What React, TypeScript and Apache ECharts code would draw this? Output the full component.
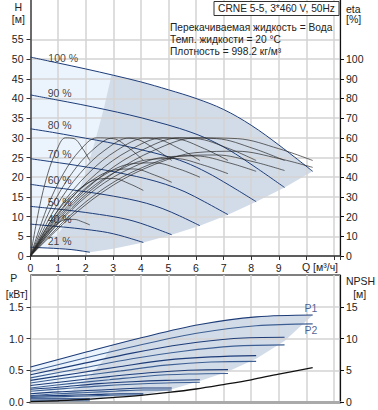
import React, { useEffect, useRef } from 'react';
import * as echarts from 'echarts';

const FONT = '"Liberation Sans", Arial, sans-serif';

// Speed curve labels and their anchor (Q, H)
const SPEED_LABELS = ['100 %', '90 %', '80 %', '70 %', '60 %', '50 %', '40 %', '21 %'];
const SPEED_LABEL_POS = [[1.185, 50.4], [1.06, 41.5], [1.06, 33.3], [1.06, 25.9], [1.06, 19.3], [1.06, 13.8], [1.06, 9.5], [1.06, 3.7]];

// H(Q) curves per speed
const H_Q = [
  [0, 1, 2, 3, 4, 5, 6, 7, 8, 9, 10.23],
  [0, 0.9, 1.8, 2.7, 3.6, 4.5, 5.4, 6.3, 7.2, 8.1, 9.21],
  [0, 0.8, 1.6, 2.4, 3.2, 4, 4.8, 5.6, 6.4, 7.2, 8.18],
  [0, 0.7, 1.4, 2.1, 2.8, 3.5, 4.2, 4.9, 5.6, 6.3, 7.16],
  [0, 0.6, 1.2, 1.8, 2.4, 3, 3.6, 4.2, 4.8, 5.4, 6.14],
  [0, 0.5, 1, 1.5, 2, 2.5, 3, 3.5, 4, 4.5, 5.12],
  [0, 0.4, 0.8, 1.2, 1.6, 2, 2.4, 2.8, 3.2, 3.6, 4.09],
  [0, 0.21, 0.42, 0.63, 0.84, 1.05, 1.26, 1.47, 1.68, 1.89, 2.15],
];
const H_VALS = [
  [50.5, 49.0, 47.5, 45.9, 44.2, 42.2, 40.0, 37.2, 33.2, 28.2, 21.5],
  [40.9, 39.7, 38.5, 37.2, 35.8, 34.2, 32.4, 30.1, 26.9, 22.8, 17.4],
  [32.3, 31.4, 30.4, 29.4, 28.3, 27.0, 25.6, 23.8, 21.2, 18.0, 13.8],
  [24.7, 24.0, 23.3, 22.5, 21.7, 20.7, 19.6, 18.2, 16.3, 13.8, 10.5],
  [18.2, 17.6, 17.1, 16.5, 15.9, 15.2, 14.4, 13.4, 12.0, 10.2, 7.7],
  [12.6, 12.25, 11.9, 11.5, 11.05, 10.55, 10.0, 9.3, 8.3, 7.05, 5.4],
  [8.1, 7.85, 7.6, 7.35, 7.07, 6.75, 6.4, 5.95, 5.3, 4.5, 3.44],
  [2.23, 2.16, 2.09, 2.02, 1.95, 1.86, 1.76, 1.64, 1.46, 1.24, 0.95],
];

// Efficiency curves per speed (eta axis)
const ETA_Q = [
  [0, 1.5, 3, 4.5, 6, 7.5, 9, 10.23],
  [0, 1.35, 2.7, 4.05, 5.4, 6.75, 8.1, 9.21],
  [0, 1.2, 2.4, 3.6, 4.8, 6.0, 7.2, 8.18],
  [0, 1.05, 2.1, 3.15, 4.2, 5.25, 6.3, 7.16],
  [0, 0.9, 1.8, 2.7, 3.6, 4.5, 5.4, 6.14],
  [0, 0.75, 1.5, 2.25, 3.0, 3.75, 4.5, 5.12],
  [0, 0.6, 1.2, 1.8, 2.4, 3.0, 3.6, 4.09],
  [0, 0.32, 0.63, 0.95, 1.26, 1.58, 1.89, 2.15],
];
const ETA_PUMP = [
  [0, 24.5, 42, 53.8, 60, 59.6, 54.5, 48.5],
  [0, 24.5, 42, 53.8, 60, 59.6, 54.5, 48.5],
  [0, 24.5, 42, 53.8, 60, 59.6, 54.5, 48.5],
  [0, 24.5, 42, 53.8, 60, 59.6, 54.5, 48.5],
  [0, 24.5, 42, 53.8, 60, 59.6, 54.5, 48.5],
  [0, 24.5, 42, 53.8, 60, 59.6, 54.5, 48.5],
  [0, 24.5, 42, 53.8, 60, 59.6, 54.5, 48.5],
  [0, 24.5, 42, 53.8, 60, 59.6, 54.5, 48.5],
];
const ETA_TOTAL = [
  [0, 20.2, 36, 46.5, 52.5, 53.2, 49.5, 45],
  [0, 19.5, 34.7, 44.9, 50.7, 51.3, 47.8, 43.4],
  [0, 19.3, 34.4, 44.4, 50.1, 50.8, 47.3, 43],
  [0, 18.8, 33.5, 43.2, 48.8, 49.5, 46, 41.8],
  [0, 18, 32, 41.4, 46.7, 47.3, 44.1, 40],
  [0, 16.8, 29.9, 38.6, 43.6, 44.2, 41.1, 37.4],
  [0, 14.9, 26.6, 34.4, 38.9, 39.4, 36.6, 33.3],
  [0, 7.1, 12.6, 16.3, 18.4, 18.6, 17.3, 15.8],
];

// Power curves per speed
const P_Q = [
  [0, 2.05, 4.09, 6.14, 8.18, 10.23],
  [0, 1.84, 3.68, 5.53, 7.37, 9.21],
  [0, 1.64, 3.27, 4.91, 6.54, 8.18],
  [0, 1.43, 2.86, 4.30, 5.73, 7.16],
  [0, 1.23, 2.46, 3.68, 4.91, 6.14],
  [0, 1.02, 2.05, 3.07, 4.09, 5.12],
  [0, 0.82, 1.64, 2.45, 3.27, 4.09],
  [0, 0.43, 0.86, 1.29, 1.72, 2.15],
];
const P1_VALS = [
  [0.55, 0.79, 1.02, 1.22, 1.34, 1.37],
  [0.43, 0.60, 0.77, 0.91, 1.00, 1.02],
  [0.34, 0.45, 0.56, 0.66, 0.71, 0.73],
  [0.26, 0.33, 0.40, 0.46, 0.50, 0.51],
  [0.20, 0.24, 0.29, 0.32, 0.34, 0.35],
  [0.13, 0.16, 0.18, 0.20, 0.22, 0.22],
  [0.09, 0.10, 0.11, 0.12, 0.13, 0.13],
  [0.05, 0.05, 0.05, 0.05, 0.05, 0.05],
];
const P2_VALS = [
  [0.48, 0.70, 0.91, 1.09, 1.20, 1.23],
  [0.38, 0.53, 0.68, 0.80, 0.88, 0.90],
  [0.30, 0.40, 0.49, 0.58, 0.63, 0.64],
  [0.22, 0.29, 0.35, 0.41, 0.44, 0.45],
  [0.17, 0.21, 0.25, 0.28, 0.30, 0.31],
  [0.10, 0.13, 0.15, 0.17, 0.19, 0.19],
  [0.07, 0.08, 0.09, 0.10, 0.11, 0.11],
  [0.02, 0.02, 0.02, 0.02, 0.02, 0.02],
];

// NPSH curve
const NPSH_Q = [0, 1, 2, 3, 4, 5, 6, 7, 8, 9, 10.23];
const NPSH_VALS = [0.05, 0.2, 0.4, 0.7, 1.05, 1.5, 2.05, 2.75, 3.5, 4.4, 5.4];

// Operating zones (outline points)
const H_ZONE = [[0, 50.5], [1, 49], [2, 47.5], [3, 45.9], [4, 44.2], [5, 42.2], [6, 40], [7, 37.2], [8, 33.2], [9, 28.2], [10.23, 21.5],
  [9.21, 17.4], [8.18, 13.8], [7.16, 10.5], [6.14, 7.7], [5.12, 5.4], [4.09, 3.44], [3, 1.85], [2.15, 0.95], [1.47, 1.64], [0.84, 1.95], [0, 2.23]];
const H_LIGHT = [[0, 50.5], [1, 49], [2, 47.5], [2.94, 46.0], [2.65, 37.2], [2.35, 29.4], [2.06, 22.5], [1.76, 16.5], [1.47, 11.5], [1.18, 7.3], [0.62, 2.02], [0.21, 2.16], [0, 2.23]];
const P_ZONE = [[0, 0.55], [1, 0.67], [2.05, 0.79], [3, 0.905], [4.09, 1.02], [5, 1.12], [6.14, 1.22], [7, 1.285], [8.18, 1.34], [9, 1.362], [10.23, 1.37],
  [9.21, 0.96], [8.18, 0.68], [7.16, 0.48], [6.14, 0.33], [5.12, 0.2], [4.09, 0.12], [2.15, 0.035], [0, 0.02]];
const P_LIGHT = [[0, 0.55], [1, 0.67], [2.05, 0.79], [2.94, 0.89], [2.65, 0.67], [2.35, 0.50], [2.06, 0.36], [1.76, 0.26], [1.47, 0.17], [1.18, 0.11], [0.62, 0.05], [0, 0.03]];

const P_LABELS = [{ name: 'P1', value: [10.17, 1.48] }, { name: 'P2', value: [10.17, 1.14] }];

const H_TICKS = [0, 5, 10, 15, 20, 25, 30, 35, 40, 45, 50, 55];
const ETA_TICKS = [0, 10, 20, 30, 40, 50, 60, 70, 80, 90, 100];
const P_TICKS = [0, 0.5, 1, 1.5];
const NPSH_TICKS = [0, 5, 10, 15];

const INFO_LINES = ['Перекачиваемая жидкость = Вода', 'Темп. жидкости = 20 °C', 'Плотность = 998.2 кг/м³'];
const TITLE = 'CRNE 5-5, 3*460 V, 50Hz';

const NAVY = '#1d3c78';
const ZONE = '#d2dce9';
const LIGHT = '#ebf4fd';
const GRID_LINE = '#d3d3d3';
const FS = 10.5;
const FS_INFO = 10.2;

const zip = (xs: number[], ys: number[]) => xs.map((x, i) => [x, ys[i]]);

const polySeries = (pts: number[][], xi: number, yi: number, color: string) => ({
  type: 'custom',
  xAxisIndex: xi,
  yAxisIndex: yi,
  z: -1,
  silent: true,
  clip: true,
  data: [[0, 0]],
  renderItem: (_p: any, api: any) => ({
    type: 'polygon',
    shape: { points: pts.map((p) => api.coord(p)) },
    style: { fill: color },
  }),
});

const lineSeries = (data: number[][], xi: number, yi: number, color: string, width: number) => ({
  type: 'line',
  xAxisIndex: xi,
  yAxisIndex: yi,
  data,
  showSymbol: false,
  symbol: 'none',
  smooth: 0.35,
  silent: true,
  lineStyle: { color, width },
});

export default function App() {
  const ref = useRef<HTMLDivElement>(null);
  useEffect(() => {
    document.body.style.margin = '0';
    const chart = echarts.init(ref.current!, null, { renderer: 'svg' });
    const labelStyle = { fontFamily: FONT, fontSize: FS, color: '#222' };
    const txt = (text: string, x: number, y: number, align: string, size = FS, extra: any = {}) => ({
      type: 'text', x, y, z: 10, ...extra,
      style: { text, font: `${size}px ${FONT}`, fill: '#222', align, verticalAlign: 'middle' },
    });
    const series: any[] = [];
    series.push(polySeries(H_ZONE, 0, 0, ZONE));
    series.push(polySeries(H_LIGHT, 0, 0, LIGHT));
    series.push(polySeries(P_ZONE, 1, 2, ZONE));
    series.push(polySeries(P_LIGHT, 1, 2, LIGHT));
    H_Q.forEach((q, i) => series.push(lineSeries(zip(q, H_VALS[i]), 0, 0, NAVY, 1)));
    ETA_Q.forEach((q, i) => {
      series.push(lineSeries(zip(q, ETA_PUMP[i]), 0, 1, '#2a2a2a', 0.7));
      series.push(lineSeries(zip(q, ETA_TOTAL[i]), 0, 1, '#2a2a2a', 0.7));
    });
    P_Q.forEach((q, i) => {
      series.push(lineSeries(zip(q, P1_VALS[i]), 1, 2, NAVY, 1.1));
      series.push(lineSeries(zip(q, P2_VALS[i]), 1, 2, '#3d5f93', 1.1));
    });
    series.push(lineSeries(zip(NPSH_Q, NPSH_VALS), 1, 3, '#111', 1.3));
    series.push({
      type: 'scatter', xAxisIndex: 0, yAxisIndex: 0, symbolSize: 0, silent: true,
      data: SPEED_LABELS.map((n, i) => ({ name: n, value: SPEED_LABEL_POS[i] })),
      label: { show: true, position: 'inside', formatter: '{b}', ...labelStyle, color: '#111' },
    });
    series.push({
      type: 'scatter', xAxisIndex: 1, yAxisIndex: 2, symbolSize: 0, silent: true,
      data: P_LABELS,
      label: { show: true, position: 'inside', formatter: '{b}', ...labelStyle, color: NAVY },
    });

    const splitLine = { show: true, lineStyle: { color: GRID_LINE, width: 1.5 } };
    const option: any = {
      animation: false,
      grid: [
        { left: 30.5, top: 0, width: 309.5, height: 256, show: false },
        { left: 30.5, top: 275, width: 309.5, height: 127, show: true, borderColor: '#000', borderWidth: 1, backgroundColor: 'transparent' },
      ],
      xAxis: [
        {
          type: 'value', gridIndex: 0, min: 0, max: 11.22, interval: 1,
          axisLine: { show: true, onZero: false, lineStyle: { color: '#333', width: 1.5 } },
          axisTick: { show: true, length: 4, lineStyle: { color: '#333' } },
          axisLabel: {
            ...labelStyle, margin: 6,
            formatter: (v: number) => (v <= 9 && Math.abs(v - Math.round(v)) < 1e-6 ? String(Math.round(v)) : ''),
          },
          splitLine,
        },
        {
          type: 'value', gridIndex: 1, min: 0, max: 11.22, interval: 1,
          axisLine: { show: true, onZero: false, lineStyle: { color: '#aaa', width: 3 } },
          axisTick: { show: false },
          axisLabel: { show: false },
          splitLine,
        },
      ],
      yAxis: [
        {
          type: 'value', gridIndex: 0, min: 0, max: 65, interval: 5, position: 'left',
          axisLine: { show: true, onZero: false, lineStyle: { color: '#444', width: 1.5 } },
          axisTick: { show: true, length: 4, customValues: H_TICKS, lineStyle: { color: '#333' } },
          axisLabel: { ...labelStyle, margin: 7, customValues: H_TICKS },
          splitLine,
        },
        {
          type: 'value', gridIndex: 0, min: 0, max: 130, interval: 10, position: 'right',
          axisLine: { show: true, onZero: false, lineStyle: { color: '#111', width: 1.2 } },
          axisTick: { show: true, length: 4, customValues: ETA_TICKS, lineStyle: { color: '#111' } },
          axisLabel: { ...labelStyle, margin: 6, customValues: ETA_TICKS },
          splitLine: { show: false },
        },
        {
          type: 'value', gridIndex: 1, min: 0, max: 2, interval: 0.5, position: 'left',
          axisLine: { show: true, onZero: false, lineStyle: { color: '#888', width: 1 } },
          axisTick: { show: true, length: 4, customValues: P_TICKS, lineStyle: { color: '#333' } },
          axisLabel: { ...labelStyle, margin: 7, customValues: P_TICKS, formatter: (v: number) => v.toFixed(1) },
          splitLine,
        },
        {
          type: 'value', gridIndex: 1, min: 0, max: 20, interval: 5, position: 'right',
          axisLine: { show: true, onZero: false, lineStyle: { color: '#111', width: 1.2 } },
          axisTick: { show: true, length: 4, customValues: NPSH_TICKS, lineStyle: { color: '#111' } },
          axisLabel: { ...labelStyle, margin: 6, customValues: NPSH_TICKS },
          splitLine: { show: false },
        },
      ],
      graphic: [
        txt('H', 18.3, 7, 'center'),
        txt('[м]', 18.3, 18.5, 'center'),
        txt('eta', 346, 8.5, 'left'),
        txt('[%]', 346, 19, 'left'),
        txt('P', 13.8, 278, 'center'),
        txt('[кВт]', 16.7, 293.7, 'center'),
        txt('NPSH', 346, 280.7, 'left'),
        txt('[м]', 359.7, 293.7, 'center'),
        txt('Q [м³/ч]', 302, 266.5, 'left'),
        ...INFO_LINES.map((t, i) => txt(t, 170, 27 + i * 12, 'left', FS_INFO)),
        { type: 'rect', x: 214, y: 1.5, z: 10, shape: { width: 125, height: 14 }, style: { fill: '#fff', stroke: '#333', lineWidth: 1 } },
        txt(TITLE, 276.5, 8.7, 'center', FS_INFO, { z: 11 }),
      ],
      series,
    };
    chart.setOption(option);
    return () => chart.dispose();
  }, []);
  return <div ref={ref} style={{ width: 378, height: 410 }} />;
}
